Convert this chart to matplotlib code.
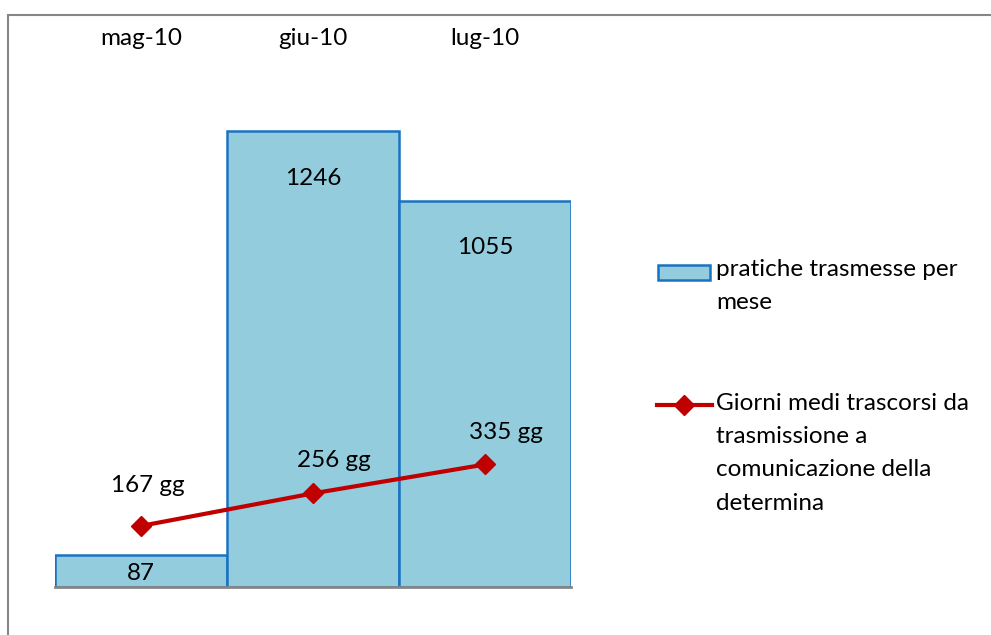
import matplotlib
matplotlib.use("Agg")
import matplotlib.pyplot as plt
from matplotlib.patches import Rectangle
from matplotlib.lines import Line2D

plt.rcParams['font.family'] = ['Lato', 'DejaVu Sans']

mesi = ['mag-10', 'giu-10', 'lug-10']
pratiche = [87, 1246, 1055]
giorni = [167, 256, 335]

bar_fill = '#93CDDD'
bar_edge = '#1A73C2'
line_col = '#C00000'
W, H = 991, 635
fs = 17.5

fig = plt.figure(figsize=(W / 100, H / 100), dpi=100)

# outer frame (right and bottom edges fall outside the canvas)
fig.patches.append(Rectangle((8 / W, -0.1), 1.2, 1 - 15 / H + 0.1,
                             transform=fig.transFigure, fill=False,
                             edgecolor='#868686', linewidth=1.5))

ax = fig.add_axes([55 / W, 1 - 587 / H, (571 - 55) / W, 512 / H])
x = list(range(len(mesi)))
ax.bar(x, pratiche, width=1.0, color=bar_fill, edgecolor=bar_edge, linewidth=1.8, zorder=2)
ax.plot(x, giorni, color=line_col, linewidth=3, marker='D', markersize=10, zorder=3)

ax.set_xlim(-0.5, 2.5)
ax.set_ylim(0, 1400)
ax.set_yticks([])
ax.xaxis.tick_top()
ax.set_xticks(x)
ax.set_xticklabels(mesi, fontsize=fs)
ax.tick_params(axis='x', length=0, pad=19)
for s in ['top', 'left', 'right']:
    ax.spines[s].set_visible(False)
ax.spines['bottom'].set_color('#868686')
ax.spines['bottom'].set_linewidth(2)
ax.spines['bottom'].set_zorder(4)

# value labels on bars and line points
bar_off = [-13, -34, -33]
for xi, v, dy in zip(x, pratiche, bar_off):
    ax.annotate(str(v), (xi, v), xytext=(0, dy), textcoords='offset points',
                ha='center', va='center', fontsize=fs)
line_off = [(5, 29), (15, 24), (15, 23)]
for xi, v, (dx, dy) in zip(x, giorni, line_off):
    ax.annotate(f'{v} gg', (xi, v), xytext=(dx, dy), textcoords='offset points',
                ha='center', va='center', fontsize=fs)

# legend drawn on the right
fig.patches.append(Rectangle((658 / W, 1 - 280 / H), 52 / W, 15 / H,
                             transform=fig.transFigure, facecolor=bar_fill,
                             edgecolor=bar_edge, linewidth=1.8))
fig.lines.append(Line2D([657 / W, 712 / W], [1 - 405 / H] * 2, transform=fig.transFigure,
                        color=line_col, linewidth=3))
fig.lines.append(Line2D([684 / W], [1 - 405 / H], transform=fig.transFigure,
                        color=line_col, marker='D', markersize=10))
fig.text(716 / W, 1 - 259 / H, 'pratiche trasmesse per\nmese', fontsize=fs,
         ha='left', va='top', linespacing=1.72)
fig.text(716 / W, 1 - 393 / H,
         'Giorni medi trascorsi da\ntrasmissione a\ncomunicazione della\ndetermina',
         fontsize=fs, ha='left', va='top', linespacing=1.72)

fig.savefig('out.png', dpi=100)
